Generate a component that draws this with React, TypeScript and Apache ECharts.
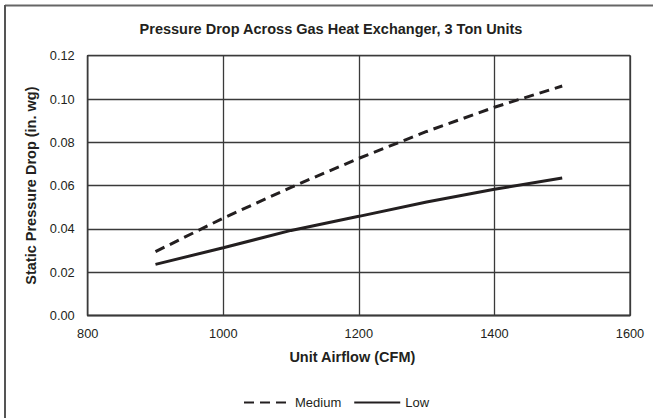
import React, { useEffect, useRef } from "react";
import * as echarts from "echarts";

const titleText = "Pressure Drop Across Gas Heat Exchanger, 3 Ton Units";
const xAxisName = "Unit Airflow (CFM)";
const yAxisName = "Static Pressure Drop (in. wg)";
const airflow = [900, 1000, 1100, 1200, 1300, 1400, 1500];
const mediumValues = [0.0295, 0.045, 0.0592, 0.0726, 0.085, 0.0962, 0.106];
const lowValues = [0.0236, 0.0313, 0.0393, 0.0458, 0.0524, 0.0583, 0.0635];
const seriesNames = ["Medium", "Low"];

const INK = "#231f20";
const FONT = "'Liberation Sans', Arial, sans-serif";

export default function App() {
  const ref = useRef<HTMLDivElement>(null);
  useEffect(() => {
    if (!ref.current) return;
    const chart = echarts.init(ref.current, undefined, { renderer: "svg" });
    const toPairs = (vals: number[]) => airflow.map((x, i) => [x, vals[i]]);
    chart.setOption({
      animation: false,
      backgroundColor: "#ffffff",
      textStyle: { fontFamily: FONT, color: INK },
      graphic: [
        {
          type: "line",
          shape: { x1: 5, y1: 5.5, x2: 653, y2: 5.5 },
          style: { stroke: "#666666", lineWidth: 2 },
        },
        {
          type: "line",
          shape: { x1: 5, y1: 5, x2: 5, y2: 418 },
          style: { stroke: "#555555", lineWidth: 2 },
        },
        {
          type: "text",
          x: 331,
          y: 28.5,
          style: {
            text: titleText,
            fontFamily: FONT,
            fontWeight: "bold",
            fontSize: 14.5,
            fill: INK,
            textAlign: "center",
            textVerticalAlign: "middle",
          },
        },
      ],
      grid: {
        left: 87.7,
        right: 23,
        top: 55.7,
        bottom: 102.5,
        show: true,
        borderColor: "#3a3a3a",
        borderWidth: 1.3,
      },
      legend: {
        left: 238,
        top: 391,
        itemWidth: 46,
        itemHeight: 14,
        itemGap: 12,
        itemStyle: { opacity: 0 },
        textStyle: { fontFamily: FONT, fontSize: 13, color: INK },
        data: seriesNames,
      },
      xAxis: {
        type: "value",
        min: 800,
        max: 1600,
        interval: 200,
        name: xAxisName,
        nameLocation: "middle",
        nameGap: 34,
        nameTextStyle: {
          fontFamily: FONT,
          fontWeight: "bold",
          fontSize: 14.5,
          color: INK,
          padding: [0, 13, 0, 0],
        },
        axisLine: { show: true, lineStyle: { color: "#3a3a3a", width: 1.3 } },
        axisTick: { show: false },
        axisLabel: {
          fontFamily: FONT,
          fontSize: 12.8,
          color: INK,
          margin: 11,
          formatter: (v: number) => String(v),
        },
        splitLine: { show: true, lineStyle: { color: "#3a3a3a", width: 1.3 } },
      },
      yAxis: {
        type: "value",
        min: 0,
        max: 0.12,
        interval: 0.02,
        name: yAxisName,
        nameLocation: "middle",
        nameGap: 48,
        nameTextStyle: { fontFamily: FONT, fontWeight: "bold", fontSize: 14.5, color: INK },
        axisLine: { show: true, lineStyle: { color: "#3a3a3a", width: 1.3 } },
        axisTick: { show: false },
        axisLabel: {
          fontFamily: FONT,
          fontSize: 12.8,
          color: INK,
          margin: 13,
          formatter: (v: number) => v.toFixed(2),
        },
        splitLine: { show: true, lineStyle: { color: "#3a3a3a", width: 1.3 } },
      },
      series: [
        {
          name: seriesNames[0],
          type: "line",
          data: toPairs(mediumValues),
          symbol: "none",
          lineStyle: { color: INK, width: 3, type: [10, 6] },
          itemStyle: { color: INK },
        },
        {
          name: seriesNames[1],
          type: "line",
          data: toPairs(lowValues),
          symbol: "none",
          lineStyle: { color: INK, width: 3 },
          itemStyle: { color: INK },
        },
      ],
    });
    return () => chart.dispose();
  }, []);
  return (
    <div
      ref={ref}
      style={{ position: "absolute", left: 0, top: 0, width: 653, height: 418, background: "#fff" }}
    />
  );
}
